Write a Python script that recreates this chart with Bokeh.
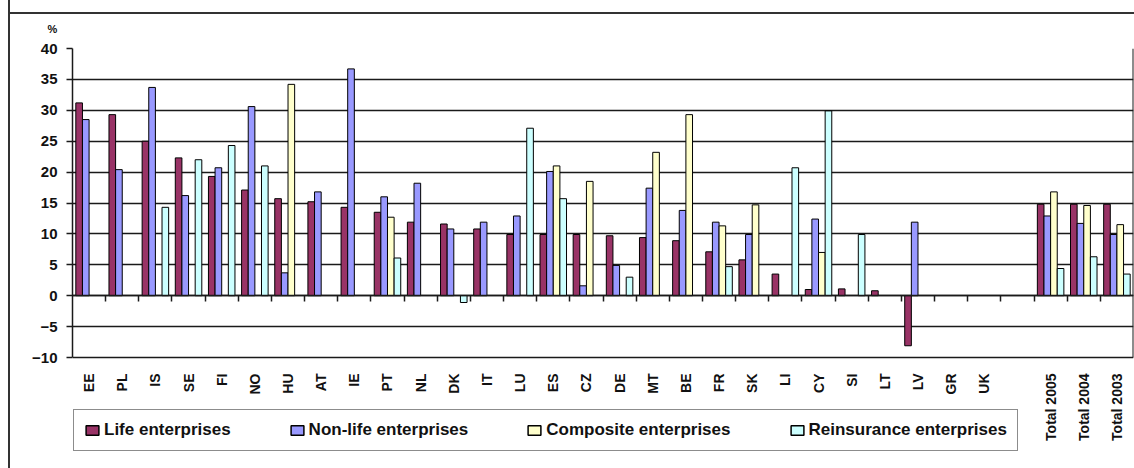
import math
import numpy as np
from bokeh.plotting import figure
from bokeh.models import (Range1d, LinearAxis, FixedTicker, Legend, LegendItem,
                          Title, ColumnDataSource)
from bokeh.transform import dodge
from bokeh.embed import file_html
from bokeh.resources import INLINE

nan = np.nan

categories = ["EE", "PL", "IS", "SE", "FI", "NO", "HU", "AT", "IE", "PT", "NL", "DK", "IT", "LU",
              "ES", "CZ", "DE", "MT", "BE", "FR", "SK", "LI", "CY", "SI", "LT", "LV", "GR", "UK",
              " ", "Total 2005", "Total 2004", "Total 2003"]

life = [31.2, 29.3, 25.0, 22.3, 19.3, 17.1, 15.7, 15.2, 14.3, 13.5, 11.9, 11.6, 10.8, 9.9,
        9.9, 9.9, 9.7, 9.4, 8.9, 7.1, 5.8, 3.5, 1.0, 1.1, 0.8, -8.1, nan, nan,
        nan, 14.8, 14.8, 14.8]
non_life = [28.5, 20.4, 33.7, 16.2, 20.7, 30.6, 3.7, 16.8, 36.7, 16.0, 18.2, 10.8, 11.9, 12.9,
            20.1, 1.6, 4.9, 17.4, 13.8, 11.9, 9.9, nan, 12.4, nan, nan, 11.9, nan, nan,
            nan, 12.9, 11.7, 9.9]
composite = [nan, nan, nan, nan, nan, nan, 34.2, nan, nan, 12.7, nan, nan, nan, nan,
             21.0, 18.5, nan, 23.2, 29.3, 11.3, 14.7, nan, 7.0, nan, nan, nan, nan, nan,
             nan, 16.8, 14.6, 11.5]
reinsurance = [nan, nan, 14.3, 22.0, 24.3, 21.0, nan, nan, nan, 6.1, nan, -1.1, nan, 27.1,
               15.7, nan, 3.0, nan, nan, 4.7, nan, 20.7, 29.9, 9.9, nan, nan, nan, nan,
               nan, 4.4, 6.3, 3.5]

series_names = ["Life enterprises", "Non-life enterprises", "Composite enterprises",
                "Reinsurance enterprises"]
series_colors = ["#993366", "#9999FF", "#FFFFCC", "#CCFFFF"]
y_ticks = [-10, -5, 0, 5, 10, 15, 20, 25, 30, 35, 40]
unit_label = "%"

FONT = "Liberation Sans"
DARK = "#1a1a1a"

# layout (pixels)
W, H = 1134, 468
PLOT_LEFT, PLOT_TOP, PLOT_BOTTOM = 72, 48, 357
y_lo_axis, y_hi_axis = y_ticks[0], y_ticks[-1]
px_per_unit = (PLOT_BOTTOM - PLOT_TOP) / (y_hi_axis - y_lo_axis)
y_lo_frame = y_lo_axis - (H - PLOT_BOTTOM) / px_per_unit   # frame runs on below the plot area

n = len(categories)
centers = [i + 0.5 for i in range(n)]
src = ColumnDataSource(dict(xc=centers, cat=categories, life=np.array(life),
                            non_life=np.array(non_life), composite=np.array(composite),
                            reinsurance=np.array(reinsurance)))

p = figure(x_range=Range1d(0, n), y_range=Range1d(y_lo_frame, y_hi_axis),
           width=W, height=H, output_backend="svg", toolbar_location=None,
           min_border_left=PLOT_LEFT, min_border_right=1, min_border_top=PLOT_TOP,
           min_border_bottom=0)
p.background_fill_color = "white"
p.border_fill_color = None
p.outline_line_color = None
# outer chart-area border (left and top edges visible)
p.styles = {"box-shadow": "inset 8px 0 0 0 white, inset 10px 0 0 0 #333333, "
                          "inset 0 12px 0 0 white, inset 0 14px 0 0 #333333",
            "background": "white"}

# y axis
ya = p.yaxis[0]
ya.ticker = FixedTicker(ticks=y_ticks)
ya.bounds = (y_lo_axis, y_hi_axis)
ya.major_label_text_font = FONT
ya.major_label_text_font_size = "15px"
ya.major_label_text_font_style = "bold"
ya.major_label_text_color = "#111111"
ya.major_label_standoff = 9
ya.major_tick_out = 6
ya.major_tick_in = 0
ya.minor_tick_line_color = None
ya.axis_line_color = DARK
ya.axis_line_width = 1.5
ya.major_tick_line_color = DARK
ya.major_tick_line_width = 1.5

p.ygrid.grid_line_color = DARK
p.ygrid.grid_line_width = 1.5
p.xgrid.grid_line_color = None

# right edge of the plot area
p.segment(x0=[n], x1=[n], y0=[y_lo_axis], y1=[y_hi_axis], line_color=DARK, line_width=2)

# x axis with the category labels, fixed at the bottom of the plot area
xa = p.xaxis[0]
xa.fixed_location = y_lo_axis
xa.ticker = FixedTicker(ticks=centers)
xa.major_label_overrides = {c: lab for c, lab in zip(centers, categories)}
xa.major_label_orientation = math.pi / 2
xa.major_label_text_font = FONT
xa.major_label_text_font_size = "14px"
xa.major_label_text_font_style = "bold"
xa.major_label_text_color = "#111111"
xa.major_label_standoff = 10
xa.axis_line_color = None
xa.major_tick_line_color = None
xa.minor_tick_line_color = None

# axis at zero with tick marks between categories
tick_axis = LinearAxis(fixed_location=0,
                       ticker=FixedTicker(ticks=list(range(1, n))),
                       major_tick_out=6, major_tick_in=0,
                       major_label_text_color=None, major_label_text_font_size="1px",
                       axis_line_color=DARK, axis_line_width=1.5,
                       major_tick_line_color=DARK, major_tick_line_width=1.5,
                       minor_tick_line_color=None)

keys = ["life", "non_life", "composite", "reinsurance"]
offsets = [-0.3, -0.1, 0.1, 0.3]
legend_items = []
for key, off, col, nm in zip(keys, offsets, series_colors, series_names):
    p.vbar(x=dodge("xc", off), top=key, bottom=0, width=0.2,
           source=src, fill_color=col, line_color="black", line_width=1)
    # undrawn quad (NaN row): gives a full square swatch in the legend
    swatch = p.quad(left=[nan], right=[nan], top=[nan], bottom=[nan], fill_color=col,
                    line_color="black", line_width=1.5)
    legend_items.append(LegendItem(label=nm, renderers=[swatch]))

p.add_layout(tick_axis, "below")

legend = Legend(items=legend_items,
                orientation="horizontal", location=(1, 17),
                label_text_font=FONT, label_text_font_size="17px", label_text_font_style="bold",
                label_text_color="#111111",
                glyph_width=16, glyph_height=12, label_standoff=4, spacing=58,
                padding=10, margin=0,
                border_line_color=DARK, border_line_width=1.5,
                background_fill_color="white", background_fill_alpha=1)
p.add_layout(legend, "center")

p.add_layout(Title(text=unit_label, align="left", offset=-25, standoff=28,
                   text_font=FONT, text_font_size="11px", text_font_style="bold",
                   text_color="#111111"), "above")

open("out.html", "w").write(file_html(p, INLINE))
